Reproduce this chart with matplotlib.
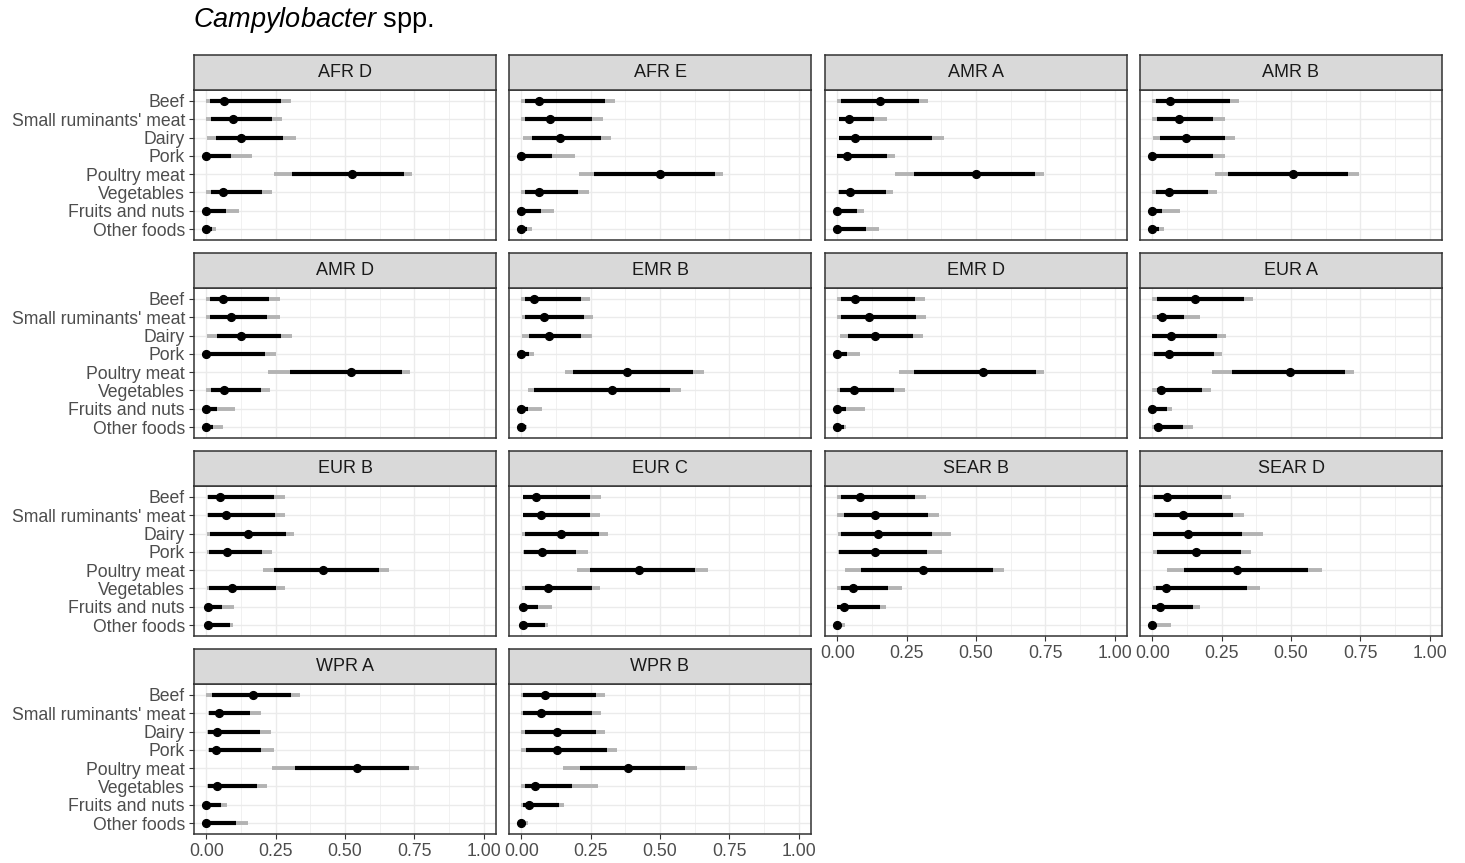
"""Campylobacter spp. source attribution by subregion (faceted interval plot)."""

import matplotlib
matplotlib.use("Agg")
import matplotlib.pyplot as plt
import numpy as np

plt.rcParams["font.family"] = ["Liberation Sans", "DejaVu Sans"]
plt.rcParams["mathtext.fontset"] = "custom"
plt.rcParams["mathtext.it"] = "Liberation Sans:italic"
plt.rcParams["mathtext.rm"] = "Liberation Sans"

regions = ["AFR D", "AFR E", "AMR A", "AMR B", "AMR D", "EMR B", "EMR D",
           "EUR A", "EUR B", "EUR C", "SEAR B", "SEAR D", "WPR A", "WPR B"]
foods = ["Beef", "Small ruminants' meat", "Dairy", "Pork", "Poultry meat",
         "Vegetables", "Fruits and nuts", "Other foods"]

# median attribution, one row per region, columns follow `foods`
median = [
    [0.062, 0.095, 0.125, 0.000, 0.524, 0.059, 0.000, 0.000],
    [0.065, 0.102, 0.138, 0.000, 0.500, 0.062, 0.000, 0.000],
    [0.153, 0.040, 0.065, 0.035, 0.500, 0.047, 0.000, 0.000],
    [0.062, 0.094, 0.122, 0.000, 0.506, 0.060, 0.000, 0.000],
    [0.059, 0.089, 0.125, 0.000, 0.521, 0.062, 0.000, 0.000],
    [0.047, 0.083, 0.098, 0.000, 0.381, 0.325, 0.000, 0.000],
    [0.063, 0.114, 0.134, 0.000, 0.524, 0.060, 0.000, 0.000],
    [0.155, 0.033, 0.068, 0.058, 0.496, 0.030, 0.000, 0.020],
    [0.049, 0.069, 0.151, 0.075, 0.419, 0.091, 0.006, 0.004],
    [0.052, 0.069, 0.141, 0.075, 0.424, 0.094, 0.007, 0.004],
    [0.082, 0.137, 0.147, 0.137, 0.308, 0.057, 0.025, 0.000],
    [0.053, 0.112, 0.128, 0.157, 0.305, 0.049, 0.027, 0.000],
    [0.168, 0.046, 0.039, 0.035, 0.545, 0.039, 0.000, 0.000],
    [0.084, 0.072, 0.130, 0.127, 0.384, 0.048, 0.028, 0.000],
]

# inner interval (black)
inner_lo = [
    [0.014, 0.016, 0.035, 0.000, 0.308, 0.017, 0.000, 0.000],
    [0.014, 0.014, 0.037, 0.000, 0.263, 0.014, 0.000, 0.000],
    [0.012, 0.005, 0.007, 0.000, 0.275, 0.006, 0.000, 0.000],
    [0.013, 0.016, 0.026, 0.000, 0.272, 0.013, 0.000, 0.000],
    [0.014, 0.014, 0.037, 0.000, 0.301, 0.016, 0.000, 0.000],
    [0.012, 0.012, 0.027, 0.000, 0.187, 0.047, 0.000, 0.000],
    [0.014, 0.013, 0.039, 0.000, 0.278, 0.010, 0.000, 0.000],
    [0.016, 0.016, 0.000, 0.007, 0.286, 0.016, 0.000, 0.004],
    [0.006, 0.006, 0.014, 0.009, 0.245, 0.009, 0.000, 0.000],
    [0.007, 0.007, 0.014, 0.010, 0.246, 0.014, 0.000, 0.000],
    [0.014, 0.022, 0.013, 0.006, 0.086, 0.013, 0.000, 0.000],
    [0.006, 0.010, 0.003, 0.016, 0.115, 0.013, 0.000, 0.000],
    [0.020, 0.010, 0.006, 0.010, 0.318, 0.006, 0.000, 0.000],
    [0.004, 0.004, 0.012, 0.017, 0.211, 0.012, 0.004, 0.000],
]
inner_hi = [
    [0.270, 0.236, 0.275, 0.090, 0.712, 0.200, 0.069, 0.019],
    [0.302, 0.255, 0.288, 0.112, 0.698, 0.204, 0.072, 0.019],
    [0.294, 0.131, 0.341, 0.177, 0.712, 0.174, 0.069, 0.102],
    [0.279, 0.220, 0.262, 0.217, 0.706, 0.199, 0.036, 0.022],
    [0.227, 0.220, 0.268, 0.212, 0.704, 0.196, 0.037, 0.023],
    [0.216, 0.227, 0.216, 0.027, 0.620, 0.535, 0.022, 0.017],
    [0.279, 0.283, 0.272, 0.036, 0.717, 0.203, 0.030, 0.022],
    [0.329, 0.114, 0.233, 0.222, 0.695, 0.178, 0.052, 0.109],
    [0.243, 0.249, 0.286, 0.199, 0.623, 0.252, 0.055, 0.085],
    [0.247, 0.249, 0.281, 0.197, 0.627, 0.255, 0.060, 0.085],
    [0.281, 0.325, 0.340, 0.324, 0.563, 0.183, 0.153, 0.014],
    [0.250, 0.292, 0.322, 0.319, 0.560, 0.341, 0.145, 0.006],
    [0.304, 0.157, 0.194, 0.197, 0.732, 0.183, 0.053, 0.105],
    [0.270, 0.253, 0.269, 0.307, 0.592, 0.184, 0.136, 0.014],
]

# outer interval (grey)
outer_lo = [
    [0.000, 0.000, 0.001, 0.000, 0.245, 0.000, 0.000, 0.000],
    [0.000, 0.000, 0.007, 0.000, 0.209, 0.000, 0.000, 0.000],
    [0.000, 0.004, 0.004, 0.000, 0.206, 0.003, 0.000, 0.000],
    [0.000, 0.000, 0.001, 0.000, 0.227, 0.000, 0.000, 0.000],
    [0.000, 0.000, 0.003, 0.000, 0.223, 0.000, 0.000, 0.000],
    [0.000, 0.003, 0.003, 0.000, 0.158, 0.024, 0.000, 0.000],
    [0.000, 0.000, 0.009, 0.000, 0.223, 0.000, 0.000, 0.000],
    [0.000, 0.000, 0.000, 0.000, 0.216, 0.000, 0.000, 0.000],
    [0.003, 0.003, 0.001, 0.003, 0.203, 0.003, 0.000, 0.000],
    [0.004, 0.004, 0.001, 0.004, 0.201, 0.003, 0.000, 0.000],
    [0.000, 0.000, 0.003, 0.003, 0.027, 0.000, 0.000, 0.000],
    [0.000, 0.003, 0.003, 0.003, 0.052, 0.003, 0.000, 0.000],
    [0.000, 0.006, 0.003, 0.006, 0.237, 0.003, 0.000, 0.000],
    [0.000, 0.000, 0.000, 0.000, 0.151, 0.000, 0.000, 0.000],
]
outer_hi = [
    [0.305, 0.273, 0.324, 0.165, 0.742, 0.235, 0.117, 0.036],
    [0.338, 0.294, 0.322, 0.193, 0.728, 0.243, 0.117, 0.037],
    [0.327, 0.180, 0.383, 0.209, 0.747, 0.201, 0.094, 0.151],
    [0.314, 0.263, 0.299, 0.262, 0.745, 0.232, 0.098, 0.040],
    [0.266, 0.266, 0.308, 0.250, 0.734, 0.230, 0.104, 0.058],
    [0.247, 0.259, 0.255, 0.046, 0.659, 0.576, 0.075, 0.020],
    [0.317, 0.320, 0.309, 0.083, 0.747, 0.242, 0.099, 0.029],
    [0.364, 0.171, 0.266, 0.250, 0.729, 0.213, 0.070, 0.148],
    [0.285, 0.282, 0.317, 0.236, 0.660, 0.282, 0.101, 0.095],
    [0.288, 0.283, 0.311, 0.240, 0.673, 0.285, 0.111, 0.094],
    [0.318, 0.367, 0.409, 0.376, 0.600, 0.232, 0.174, 0.027],
    [0.283, 0.329, 0.399, 0.355, 0.612, 0.388, 0.170, 0.068],
    [0.337, 0.196, 0.232, 0.245, 0.768, 0.219, 0.073, 0.151],
    [0.300, 0.287, 0.300, 0.345, 0.633, 0.275, 0.155, 0.025],
]

W, H = 1465, 863
fig = plt.figure(figsize=(W / 100, H / 100), dpi=100)

col_x = [194, 509, 825, 1140]
strip_top = [55, 253, 451, 649]
panel_w, strip_h, panel_h = 302, 35, 150
ncol = 4
n_reg = len(regions)

border = "#333333"
text_col = "#4D4D4D"
ypos = np.arange(len(foods))[::-1] + 1  # Beef at the top

for i, reg in enumerate(regions):
    r, c = divmod(i, ncol)
    x0 = col_x[c] / W
    y_strip = 1 - (strip_top[r] + strip_h) / H
    y_panel = 1 - (strip_top[r] + strip_h + panel_h) / H

    ax = fig.add_axes([x0, y_panel, panel_w / W, panel_h / H])
    ax.set_xlim(-0.045, 1.045)
    ax.set_ylim(0.4, len(foods) + 0.6)
    ax.set_xticks([0, 0.25, 0.5, 0.75, 1.0])
    ax.set_xticks([0.125, 0.375, 0.625, 0.875], minor=True)
    ax.set_yticks(ypos)
    ax.grid(True, which="major", color="#EBEBEB", linewidth=1.0)
    ax.grid(True, which="minor", axis="x", color="#EBEBEB", linewidth=0.5)
    ax.set_axisbelow(True)
    for sp in ax.spines.values():
        sp.set_color(border)
        sp.set_linewidth(1.1)
    ax.tick_params(which="major", length=3.5, width=0.8, color=border,
                   labelcolor=text_col, labelsize=12.7, pad=3)
    ax.tick_params(which="minor", length=0)

    # bottom panel of its column gets x labels, first column gets food labels
    below = i + ncol
    if below < n_reg:
        ax.tick_params(axis="x", labelbottom=False, length=0)
    else:
        ax.set_xticklabels(["0.00", "0.25", "0.50", "0.75", "1.00"])
    if c == 0:
        ax.set_yticklabels(foods)
    else:
        ax.tick_params(axis="y", labelleft=False, length=0)

    ax.hlines(ypos, outer_lo[i], outer_hi[i], color="#B3B3B3", linewidth=2.8, zorder=2)
    ax.hlines(ypos, inner_lo[i], inner_hi[i], color="black", linewidth=3.0, zorder=3)
    ax.plot(median[i], ypos, "o", color="black", markersize=5.6, zorder=4)

    sax = fig.add_axes([x0, y_strip, panel_w / W, strip_h / H])
    sax.set_facecolor("#D9D9D9")
    sax.set_xticks([])
    sax.set_yticks([])
    for sp in sax.spines.values():
        sp.set_color(border)
        sp.set_linewidth(1.1)
    sax.text(0.5, 0.5, reg, ha="center", va="center", fontsize=13,
             color="#1A1A1A", transform=sax.transAxes)

fig.text(193 / W, 1 - 20 / H, r"$\mathit{Campylobacter}$ spp.", fontsize=19.5,
         ha="left", va="center", color="black")

fig.savefig("out.png", dpi=100)
